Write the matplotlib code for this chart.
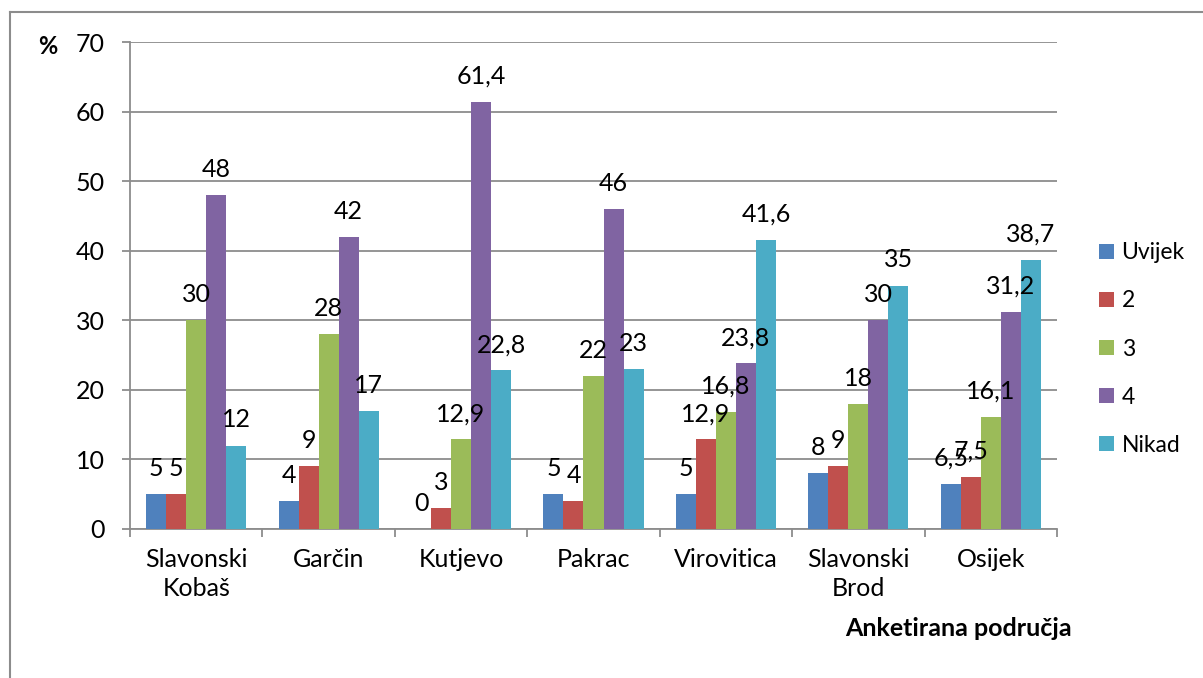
import numpy as np
import matplotlib.pyplot as plt
from matplotlib.lines import Line2D

plt.rcParams['font.family'] = ['Lato', 'DejaVu Sans']

regions = ["Slavonski\nKobaš", "Garčin", "Kutjevo", "Pakrac",
           "Virovitica", "Slavonski\nBrod", "Osijek"]
series_names = ["Uvijek", "2", "3", "4", "Nikad"]
uvijek = [5, 4, 0, 5, 5, 8, 6.5]
s2 = [5, 9, 3, 4, 12.9, 9, 7.5]
s3 = [30, 28, 12.9, 22, 16.8, 18, 16.1]
s4 = [48, 42, 61.4, 46, 23.8, 30, 31.2]
nikad = [12, 17, 22.8, 23, 41.6, 35, 38.7]
colors = ['#4F81BD', '#C0504D', '#9BBB59', '#8064A2', '#4BACC6']

series = [uvijek, s2, s3, s4, nikad]

fig = plt.figure(figsize=(12.03, 6.78), dpi=100)
ax = fig.add_axes([130/1203, 1 - 529/678, (1057 - 130)/1203, (529 - 42)/678])

x = np.arange(len(regions)) + 0.5
w = 20 / 132.4
grid_c = '#8C8C8C'
fs = 18

for i, (name, vals, c) in enumerate(zip(series_names, series, colors)):
    xs = x + (i - 2) * w
    ax.bar(xs, vals, width=w, color=c, label=name, zorder=3)
    for xi, v in zip(xs, vals):
        lbl = f"{v:g}".replace('.', ',')
        ax.annotate(lbl, (xi, v), xytext=(0, 13), textcoords='offset points',
                    ha='center', va='baseline', fontsize=fs, zorder=4)

ax.set_xlim(0, len(regions))
ax.set_ylim(0, 70)
ax.set_yticks(range(0, 71, 10))
ax.yaxis.grid(True, color=grid_c, linewidth=1.3, zorder=0)
ax.set_xticks(np.arange(len(regions) + 1))
ax.set_xticklabels([])
ax.set_xticks(x, minor=True)
ax.set_xticklabels(regions, minor=True, fontsize=fs, linespacing=1.3)
ax.tick_params(axis='x', which='minor', length=0, pad=14)
ax.tick_params(axis='x', which='major', length=6, color=grid_c, width=1.3)
ax.tick_params(axis='y', length=6, color=grid_c, width=1.3, labelsize=fs, pad=12)

for s in ['top', 'right']:
    ax.spines[s].set_visible(False)
for s in ['left', 'bottom']:
    ax.spines[s].set_color(grid_c)
    ax.spines[s].set_linewidth(1.3)

fig.text(48/1203, 1 - 47/678, '%', fontsize=17, fontweight='bold',
         ha='center', va='center')
fig.text(1072/1203, 1 - 628/678, 'Anketirana područja', fontsize=fs,
         fontweight='bold', ha='right', va='center')

ax.legend(loc='center left', bbox_to_anchor=(1094/1203, 1 - 349/678),
          bbox_transform=fig.transFigure, frameon=False, fontsize=16.5,
          handlelength=0.655, handleheight=0.655, handletextpad=0.35,
          labelspacing=1.18, borderaxespad=0, borderpad=0.2)

# outer chart frame (only left and top edges visible)
fig.add_artist(Line2D([10/1203, 10/1203], [0, 1 - 12/678],
                      transform=fig.transFigure, color=grid_c, linewidth=1.5))
fig.add_artist(Line2D([10/1203, 1], [1 - 12/678, 1 - 12/678],
                      transform=fig.transFigure, color=grid_c, linewidth=1.5))

fig.savefig('out.png', dpi=100)
